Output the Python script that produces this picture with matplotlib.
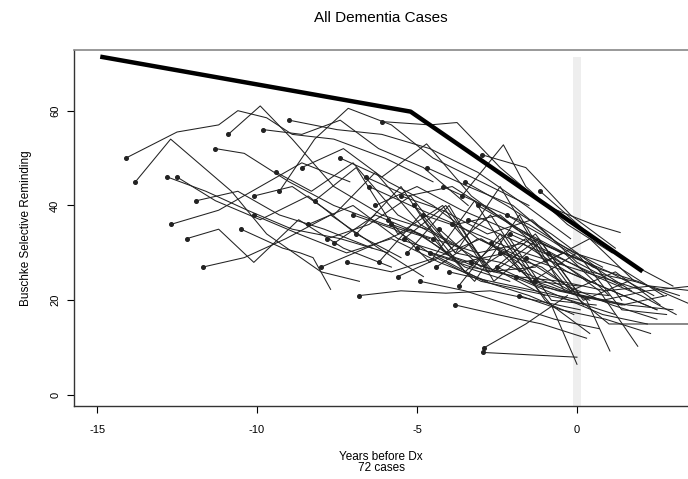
import matplotlib
matplotlib.use("Agg")
import matplotlib.pyplot as plt

plt.rcParams['font.family'] = ['Liberation Sans', 'DejaVu Sans']
plt.rcParams['axes.unicode_minus'] = False

# one entry per case: visit times (years before Dx) and Buschke scores
case_years = [
    [-14.1, -12.5, -11.2, -10.6, -9.7, -8.9, -7.6, -6.0, -4.5],
    [-13.8, -12.7, -10.8, -9.7, -8.0, -6.8],
    [-12.8, -11.6, -10.3, -8.9, -7.4, -5.9],
    [-12.5, -11.3, -9.9, -8.4, -6.9, -5.5],
    [-12.7, -11.2, -9.9, -8.6, -7.1],
    [-12.2, -11.2, -10.1, -8.7, -7.3, -5.8],
    [-11.7, -10.4, -9.1, -7.7, -6.2, -4.8],
    [-11.9, -10.6, -9.3, -7.9, -6.4],
    [-11.3, -10.4, -9.0, -7.6, -6.0, -4.6],
    [-10.9, -9.9, -8.9, -7.6, -6.1, -4.7],
    [-10.1, -8.9, -7.6, -6.3, -4.9, -3.6],
    [-9.4, -8.3, -7.0, -5.6, -4.2, -2.9],
    [-10.5, -9.2, -8.65, -8.25, -7.7],
    [-10.1, -8.7, -7.2, -5.8, -4.3, -2.8],
    [-9.3, -8.2, -7.15, -5.8, -4.5, -3.0, -1.5],
    [-9.8, -8.6, -7.4, -6.2, -4.8, -3.4],
    [-9.0, -7.5, -6.1, -4.6, -3.1, -1.6, -0.2],
    [-8.6, -7.3, -5.9, -4.5, -3.1, -1.6],
    [-8.2, -6.9, -5.6, -4.2, -2.8, -1.3],
    [-7.8, -6.5, -5.2, -3.8, -2.4, -1.0, 0.4],
    [-7.4, -6.1, -4.7, -3.3, -1.9, -0.5],
    [-6.1, -4.6, -3.75, -2.4, -1.0, 0.5, 1.35],
    [-6.8, -5.5, -4.1, -2.7, -1.3, 0.1],
    [-7.0, -5.7, -4.4, -3.0, -1.6, -0.2],
    [-6.5, -5.2, -3.8, -2.4, -1.0, 0.4],
    [-6.2, -4.9, -3.5, -2.2, -0.8, 0.6],
    [-5.9, -4.6, -3.2, -1.8, -0.4, 1.0],
    [-5.5, -4.2, -2.8, -1.4, 0.0, 1.4],
    [-5.3, -4.0, -2.6, -1.2, 0.2],
    [-7.6, -6.3, -4.9, -3.5, -2.1],
    [-8.0, -6.6, -5.2, -3.8, -2.4, -1.0],
    [-6.6, -5.3, -3.9, -2.5, -1.1, 0.3, 1.7],
    [-5.8, -4.5, -3.1, -1.7, -0.3, 1.1, 2.5],
    [-5.1, -3.8, -2.4, -1.0, 0.4, 1.8],
    [-8.4, -7.0, -5.6, -4.2, -2.8],
    [-7.2, -5.8, -4.4, -3.0, -1.6, -0.2, 1.2],
    [-5.6, -4.3, -2.9, -1.5, -0.1],
    [-6.9, -5.5, -4.1, -2.7, -1.3, 0.1],
    [-4.8, -3.5, -2.1, -0.7, 0.7, 2.1],
    [-4.5, -3.2, -1.8, -0.4, 1.0],
    [-4.2, -2.9, -1.5, -0.1, 1.3, 2.7],
    [-3.9, -2.6, -1.2, 0.2, 1.6],
    [-3.6, -2.3, -1.6, -0.3, 1.1],
    [-2.97, -1.6, -0.2, 1.2],
    [-2.9, -1.6, -0.3],
    [-2.95, -1.5, 0.0],
    [-1.15, 0.2, 1.6, 3.0],
    [-4.6, -3.3, -1.9, -0.5, 0.9, 2.3, 3.6],
    [-3.3, -2.0, -0.6, 0.8, 2.2],
    [-2.7, -1.4, 0.0, 1.4, 2.8],
    [-4.0, -2.7, -1.3, 0.1, 1.0, 3.5],
    [-3.4, -2.1, -0.7, 0.7, 1.9],
    [-2.4, -1.1, 0.3, 1.03],
    [-1.9, -0.6, 0.8, 2.2, 3.6],
    [-1.6, -0.3, 1.1, 2.5],
    [-4.9, -3.5, -2.1, -0.7, 0.7],
    [-3.8, -2.5, -1.1, 0.3],
    [-2.1, -0.8, 0.6, 2.0, 3.1],
    [-1.3, 0.0, 1.4, 2.8],
    [-4.3, -3.0, -1.6, -0.2, 1.2, 2.6],
    [-3.1, -1.8, -0.4, 1.0, 2.4],
    [-2.5, -1.2, 0.2, 1.6, 3.0],
    [-5.0, -3.6, -2.2, -0.8, 0.0],
    [-3.7, -2.4, -1.0, 0.4],
    [-2.2, -0.9, 0.5, 1.9, 3.6],
    [-4.7, -3.4, -2.0, -0.6, 0.8],
    [-1.8, -0.5, 0.9, 2.3],
    [-4.4, -3.1, -1.7, -0.3, 1.1, 2.5],
    [-3.5, -2.2, -0.8, 0.6, 1.4],
    [-0.9, 0.4, 1.8, 3.2],
    [-6.3, -5.0, -3.6, -2.2, -0.8, 0.6],
    [-5.4, -4.1, -2.7, -1.3, 0.1, 1.5],
]
case_scores = [
    [50, 55.5, 57, 60, 58.5, 55, 54, 50, 45],
    [45, 54, 43, 34, 26, 24],
    [46, 43, 39, 35, 33, 30],
    [46, 41, 37, 42, 34, 29],
    [36, 39, 44, 49, 45],
    [33, 35, 28, 37, 31, 27],
    [27, 29, 33, 38, 31, 25],
    [41, 43, 38, 35, 31],
    [52, 51, 45, 40, 36, 33],
    [55, 61, 54, 44, 38, 35],
    [42, 44, 38, 47, 36, 31],
    [47, 43, 49, 38, 33, 28],
    [35, 31, 30, 29, 22.3],
    [38, 34, 30, 33, 28, 24],
    [43, 54, 60.5, 57, 50, 45, 40],
    [56, 55, 58, 52, 48, 40],
    [58, 56, 55, 52, 47, 40, 33],
    [48, 52, 45, 40, 33, 28],
    [41, 48, 34, 40, 26, 27],
    [33, 36, 42, 30, 28, 24, 20],
    [50, 46, 53, 42, 35, 30],
    [57.7, 57, 57.5, 48, 40, 36, 34.3],
    [21, 22, 21.5, 22, 20, 18],
    [38, 35, 29, 33, 27, 22],
    [44, 40, 36, 38, 30, 24],
    [28, 38, 26, 34, 20, 19],
    [37, 28, 41, 26, 30, 21],
    [42, 39, 34, 37, 28, 23],
    [30, 40, 24, 32, 19],
    [32, 38, 34, 27, 24],
    [27, 31, 35, 29, 26, 21],
    [46, 42, 44, 38, 32, 28, 22],
    [36, 33, 30, 32, 26, 22, 18],
    [40, 30, 44, 28, 33, 24],
    [36, 40, 33, 30, 26],
    [28, 26, 29, 24, 22, 20, 17],
    [25, 29, 24, 21, 17],
    [34, 44, 30, 38, 24, 23],
    [38, 35, 31, 28, 25, 22],
    [33, 24, 38, 22, 21],
    [44, 40, 36, 30, 27, 21],
    [36, 26, 33, 20, 24],
    [42, 52.8, 44, 36, 30],
    [50.7, 48, 38, 31],
    [10, 15, 21],
    [9, 8.5, 8],
    [43, 35, 28, 23],
    [30, 27, 25, 24, 22, 23, 22],
    [28, 25, 21, 17, 15],
    [32, 24, 30, 18, 17],
    [26, 24, 22, 20, 15, 15],
    [37, 33, 29, 22, 10.3],
    [30, 27, 20, 9.3],
    [25, 22, 20, 22, 23],
    [29, 26, 22, 18],
    [24, 22, 19, 16, 14],
    [19, 17, 15, 12],
    [34, 30, 25, 21, 17],
    [24, 21, 19, 21],
    [35, 27, 33, 22, 26, 19],
    [40, 35, 30, 26, 21],
    [27, 23, 21, 19, 18],
    [31, 28, 30, 19, 6.5],
    [23, 34, 20, 13],
    [38, 33, 27, 24, 19],
    [48, 44, 40, 32, 27],
    [21, 18, 16, 13],
    [27, 33, 29, 23, 19, 16],
    [45, 40, 34, 27, 20],
    [30, 26, 24, 21],
    [40, 44, 39, 35, 31, 27],
    [33, 40, 26, 34, 21, 19],
]

# fitted change-point curve drawn in bold
fit_years = [-14.9, -5.2, 2.05]
fit_scores = [71.4, 59.8, 26.1]

x_ticks = [-15, -10, -5, 0]
y_ticks = [0, 20, 40, 60]

fig = plt.figure(figsize=(6.88, 4.79), dpi=100)
ax = fig.add_axes([0.1076, 0.1524, 0.8924, 0.7432])

ax.axvspan(-0.12, 0.12, ymin=0, ymax=0.98, color='#eeeeee', zorder=0, lw=0)

for yrs, sc in zip(case_years, case_scores):
    ax.plot(yrs, sc, color='#222222', lw=0.75, zorder=2)
    ax.plot(yrs[0], sc[0], 'o', color='#222222', ms=2.6, zorder=3)

ax.plot(fit_years, fit_scores, color='black', lw=3.2, solid_capstyle='butt', zorder=4)

ax.set_xlim(-15.72, 3.47)
ax.set_ylim(-2.3, 72.8)
ax.set_xticks(x_ticks)
ax.set_yticks(y_ticks)
ax.tick_params(direction='out', length=5, width=0.8, labelsize=8)
ax.tick_params(axis='x', pad=9)
ax.tick_params(axis='y', pad=5)
for lab in ax.get_yticklabels():
    lab.set_rotation(90)
    lab.set_va('center')

ax.spines['right'].set_visible(False)
ax.spines['top'].set_color('#888888')
ax.spines['top'].set_linewidth(1.2)
for s in ('left', 'bottom'):
    ax.spines[s].set_color('#333333')
    ax.spines[s].set_linewidth(1.0)

ax.set_title('All Dementia Cases', fontsize=11, pad=20)
ax.set_xlabel('Years before Dx\n72 cases', fontsize=8.5, labelpad=11, linespacing=0.95)
ax.set_ylabel('Buschke Selective Reminding', fontsize=8.5, labelpad=13)

fig.savefig('out.png', dpi=100)
